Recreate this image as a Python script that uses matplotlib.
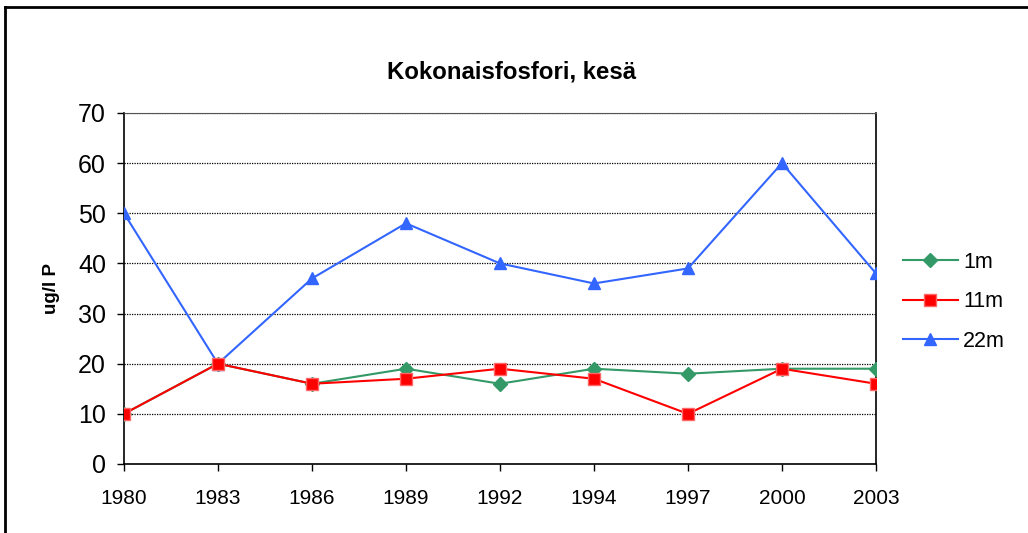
import matplotlib.pyplot as plt
from matplotlib.lines import Line2D

plt.rcParams['font.family'] = ['Liberation Sans', 'DejaVu Sans']

vuodet = ['1980', '1983', '1986', '1989', '1992', '1994', '1997', '2000', '2003']
syv_1m = [10, 20, 16, 19, 16, 19, 18, 19, 19]
syv_11m = [10, 20, 16, 17, 19, 17, 10, 19, 16]
syv_22m = [50, 20, 37, 48, 40, 36, 39, 60, 38]

fig = plt.figure(figsize=(10.28, 5.33), dpi=100)
ax = fig.add_axes([0.1206, 0.1295, 0.7315, 0.6585])

x = list(range(len(vuodet)))
ax.plot(x, syv_1m, color='#339966', marker='D', markersize=7, lw=1.5, label='1m', zorder=3)
ax.plot(x, syv_11m, color='#FF0000', marker='s', markersize=8, lw=1.5, label='11m',
        markerfacecolor='#FF0000', markeredgecolor='#FF6666', zorder=4)
ax.plot(x, syv_22m, color='#3366FF', marker='^', markersize=9, lw=1.5, label='22m', zorder=3)

ax.set_xlim(0, len(vuodet) - 1)
ax.set_ylim(0, 70)
ax.set_yticks(range(0, 71, 10))
ax.set_xticks(x)
ax.set_xticklabels(vuodet)
ax.tick_params(axis='y', labelsize=18, length=5, direction='out', width=1, pad=8)
ax.tick_params(axis='x', labelsize=15, length=5, direction='out', width=1, pad=13)
ax.yaxis.grid(True, color='black', linestyle=(0, (1, 1)), lw=0.9)
ax.set_axisbelow(True)
for s in ax.spines.values():
    s.set_color('black')
    s.set_linewidth(1.2)
ax.spines['top'].set_linewidth(0.8)
ax.spines['top'].set_color('#555555')

ax.set_ylabel('ug/l P', fontsize=13.5, fontweight='bold')
ax.yaxis.set_label_coords(-0.085, 0.5)
fig.text(0.4976, 0.865, 'Kokonaisfosfori, kesä', ha='center', va='center',
         fontsize=17.3, fontweight='bold')

ax.legend(loc='center left', bbox_to_anchor=(1.01, 0.462), frameon=False,
          fontsize=15.5, handlelength=2.55, labelspacing=0.85, handletextpad=0.25)

fig.lines.append(Line2D([0.005, 1.0], [0.987, 0.987], transform=fig.transFigure,
                        color='black', lw=2))
fig.lines.append(Line2D([0.005, 0.005], [0.0, 0.987], transform=fig.transFigure,
                        color='black', lw=2))

fig.savefig('out.png', dpi=100)
